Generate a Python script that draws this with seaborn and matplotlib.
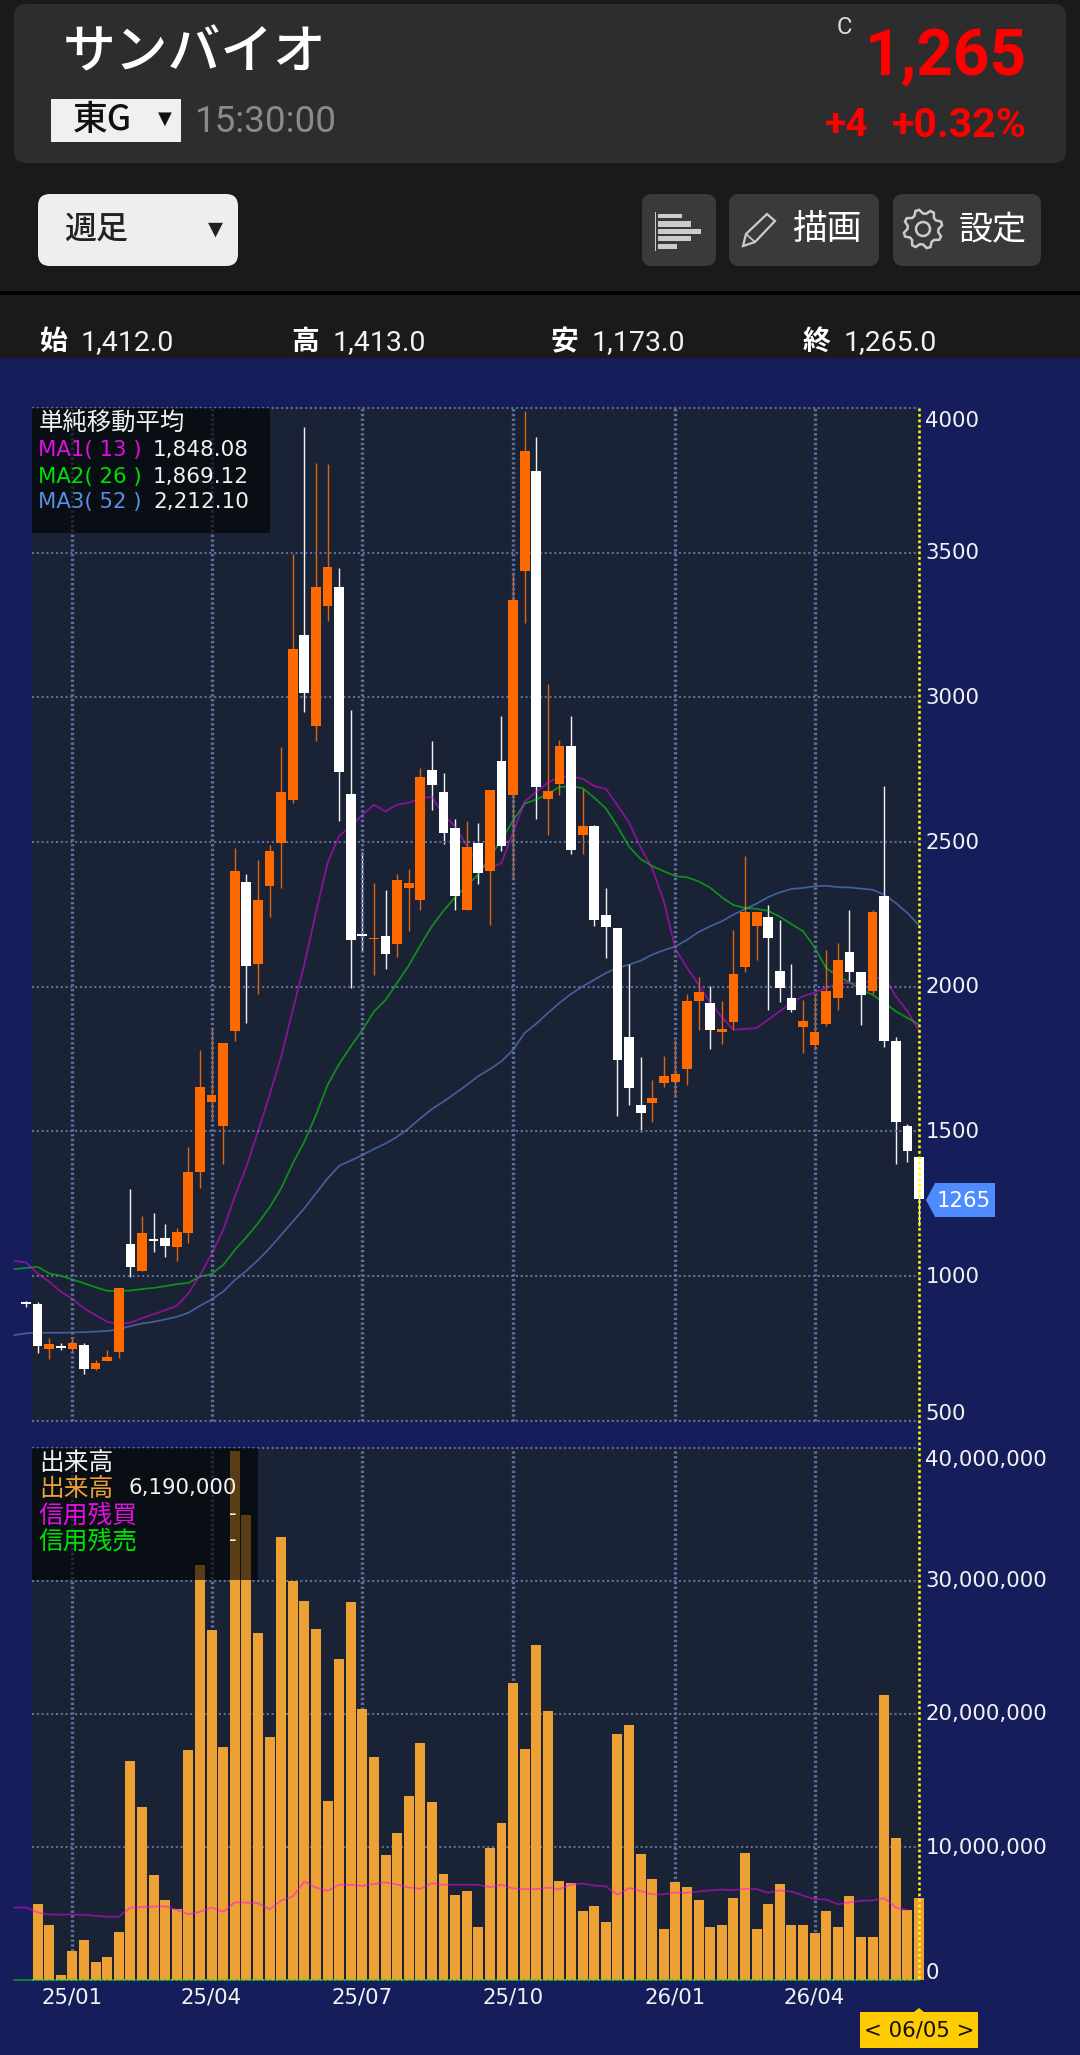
import numpy as np
import pandas as pd
import matplotlib
matplotlib.use('Agg')
import matplotlib.pyplot as plt
import seaborn as sns
from matplotlib.patches import FancyBboxPatch, Rectangle, Polygon, Circle
from matplotlib.transforms import ScaledTranslation

# Weekly candles (index 0 = leftmost candle)
candle_open = [911, 905, 749, 759, 749, 762, 677, 707, 736, 1109, 1018, 1128, 1131, 1101, 1150, 1359, 1602, 1520, 1847, 2362,
               2080, 2348, 2498, 2644, 3216, 2901, 3316, 3381, 2665, 2181, 2164, 2176, 2147, 2341, 2301, 2749, 2672, 2550, 2266, 2498,
               2399, 2780, 2662, 3436, 3782, 2649, 2700, 2831, 2525, 2555, 2249, 2202, 1826, 1590, 1597, 1668, 1671, 1717, 1950, 1945,
               1844, 1877, 2068, 2209, 2241, 2055, 1962, 1861, 1800, 1870, 1961, 2120, 2051, 1984, 2312, 1811, 1520, 1412]
candle_close = [904, 758, 764, 751, 770, 677, 698, 720, 958, 1032, 1150, 1122, 1104, 1152, 1359, 1654, 1626, 1804, 2399, 2073,
                2298, 2468, 2673, 3166, 3015, 3381, 3451, 2742, 2162, 2176, 2168, 2113, 2367, 2359, 2726, 2696, 2530, 2315, 2484, 2392,
                2680, 2485, 3336, 3852, 2690, 2677, 2831, 2474, 2555, 2229, 2205, 1747, 1649, 1563, 1614, 1690, 1697, 1949, 1983, 1850,
                1854, 2044, 2258, 2258, 2168, 1995, 1919, 1880, 1844, 1984, 2091, 2050, 1972, 2258, 1813, 1532, 1431, 1265]
candle_high = [913, 911, 785, 770, 790, 767, 710, 744, 958, 1300, 1208, 1217, 1181, 1167, 1447, 1781, 1856, 1804, 2478, 2388,
               2439, 2490, 2828, 3497, 3936, 3809, 3805, 3447, 2955, 2464, 2359, 2333, 2388, 2407, 2755, 2849, 2737, 2580, 2571, 2567,
               2680, 2935, 3432, 3991, 3899, 3047, 2852, 2935, 2682, 2560, 2341, 2204, 2079, 1757, 1679, 1762, 1817, 1975, 2033, 2001,
               1950, 2197, 2450, 2258, 2283, 2229, 2079, 1955, 1967, 2128, 2151, 2266, 2051, 2266, 2693, 1826, 1527, 1413]
candle_low = [892, 735, 714, 744, 736, 660, 675, 707, 715, 995, 1018, 1082, 1065, 1053, 1113, 1305, 1541, 1387, 1813, 1873,
              1973, 2240, 2342, 2636, 2951, 2849, 3265, 2574, 1995, 2123, 2040, 2061, 2101, 2193, 2265, 2611, 2494, 2265, 2266, 2355,
              2213, 2468, 2372, 3256, 2580, 2525, 2664, 2458, 2458, 2209, 2099, 1552, 1592, 1497, 1531, 1652, 1623, 1659, 1849, 1785,
              1803, 1849, 2050, 2091, 1918, 1946, 1912, 1771, 1782, 1865, 1921, 2018, 1869, 1976, 1791, 1387, 1394, 1173]

# Moving averages start one week before the first candle
ma1 = [1052, 1047, 1009, 980, 946, 921, 888, 865, 842, 833, 839, 854, 868, 882, 897, 940, 1003, 1076, 1159, 1274,
       1378, 1499, 1625, 1758, 1919, 2077, 2256, 2428, 2521, 2554, 2594, 2629, 2606, 2629, 2636, 2651, 2656, 2594, 2554, 2488,
       2421, 2408, 2428, 2534, 2640, 2673, 2706, 2726, 2726, 2719, 2693, 2684, 2627, 2567, 2481, 2408, 2295, 2130, 2065, 2007,
       1944, 1895, 1851, 1854, 1857, 1886, 1915, 1944, 1967, 1980, 1995, 2013, 2013, 2010, 2024, 2036, 1967, 1915, 1848]
ma2 = [1024, 1028, 1032, 1009, 1001, 988, 975, 961, 949, 948, 950, 955, 959, 965, 972, 976, 998, 1007, 1038, 1090,
       1134, 1182, 1237, 1303, 1389, 1464, 1556, 1660, 1733, 1793, 1850, 1914, 1954, 2013, 2073, 2143, 2209, 2262, 2309, 2348,
       2388, 2448, 2507, 2574, 2633, 2647, 2666, 2690, 2693, 2686, 2653, 2616, 2554, 2484, 2441, 2417, 2399, 2382, 2378, 2364,
       2342, 2309, 2282, 2272, 2269, 2262, 2242, 2216, 2192, 2136, 2064, 2037, 2015, 1990, 1972, 1944, 1915, 1892, 1869]
ma3 = [796, 802, 804, 804, 804, 805, 806, 808, 810, 816, 827, 836, 842, 850, 859, 873, 897, 919, 946, 986,
       1018, 1055, 1096, 1142, 1188, 1234, 1286, 1337, 1381, 1399, 1418, 1439, 1458, 1481, 1510, 1545, 1577, 1603, 1631, 1660,
       1691, 1715, 1742, 1782, 1840, 1872, 1909, 1944, 1975, 2001, 2024, 2047, 2065, 2076, 2090, 2111, 2126, 2139, 2162, 2189,
       2209, 2226, 2249, 2268, 2287, 2310, 2326, 2338, 2341, 2347, 2349, 2344, 2343, 2339, 2335, 2318, 2289, 2255, 2212]

# Volume in millions of shares, from the second candle on
volume = [5.74, 4.19, 0.39, 2.18, 3.05, 1.41, 1.77, 3.65, 16.5, 13.05, 7.93, 6.07, 5.33, 17.26, 31.15, 26.3, 17.5, 39.7, 34.9,
          26.1, 18.3, 33.3, 29.95, 28.5, 26.4, 13.5, 24.1, 28.4, 20.4, 16.8, 9.42, 11.04, 13.85, 17.8, 13.4, 8.0, 6.43, 6.73, 4.0,
          9.96, 11.85, 22.35, 17.4, 25.2, 20.2, 7.45, 7.3, 5.18, 5.62, 4.37, 18.46, 19.18, 9.48, 7.63, 3.89, 7.39, 7.0, 6.07, 4.0,
          4.13, 6.16, 9.6, 3.89, 5.74, 7.2, 4.13, 4.19, 3.53, 5.18, 4.0, 6.31, 3.29, 3.29, 21.4, 10.68, 5.3, 6.19]
# Margin buying balance, millions, starts one week before the first candle
margin_buy = [5.47, 5.47, 5.1, 4.94, 4.94, 4.94, 4.92, 4.85, 4.78, 4.78, 5.47, 5.5, 5.55, 5.56, 5.3, 4.97, 5.15, 5.47, 5.15, 5.86,
              5.84, 5.8, 5.33, 6.0, 6.3, 7.42, 6.97, 6.73, 7.18, 7.18, 7.09, 7.25, 7.36, 7.2, 6.97, 6.88, 7.3, 7.18, 7.18, 7.18,
              7.18, 7.0, 7.18, 6.9, 6.85, 6.85, 6.97, 6.85, 7.2, 7.27, 7.12, 7.06, 6.43, 6.94, 6.7, 6.46, 6.46, 6.6, 6.58, 6.67,
              6.76, 6.82, 6.76, 6.88, 6.85, 6.58, 6.76, 6.67, 6.37, 6.1, 6.07, 5.71, 5.86, 5.98, 6.0, 6.16, 5.47, 5.27]

month_pos = [4, 16, 29, 42, 56, 68]
month_labels = ['25/01', '25/04', '25/07', '25/10', '26/01', '26/04']
price_ticks = [500, 1000, 1500, 2000, 2500, 3000, 3500, 4000]
volume_ticks = [0, 10, 20, 30, 40]
volume_tick_labels = ['0', '10,000,000', '20,000,000', '30,000,000', '40,000,000']

NAVY = '#151e5a'
PANEL = '#1a2335'
GRID = '#5e6d99'
ORANGE = '#ff6a00'
BAR = '#eda135'
HEAD = '#1a1a1a'
JP = ['Noto Sans CJK JP', 'DejaVu Sans']
NUM = ['Roboto', 'Noto Sans CJK JP']

sns.set_style('white')
plt.rcParams['font.family'] = ['DejaVu Sans', 'Noto Sans CJK JP']

W, H = 1080, 2055
fig = plt.figure(figsize=(10.8, 20.55), dpi=100, facecolor=NAVY)


def place(x0, y0, x1, y1):
    return [x0 / W, 1 - y1 / H, (x1 - x0) / W, (y1 - y0) / H]


ax = fig.add_axes(place(32, 408, 919, 1420.7), facecolor=PANEL)
ax_vol = fig.add_axes(place(32, 1447.5, 919, 1980.4), facecolor=PANEL)
xlim = (0.517, 77)

# Candles
idx = np.arange(len(candle_open))
candles = pd.DataFrame({'i': idx, 'open': candle_open, 'close': candle_close, 'high': candle_high, 'low': candle_low})
candles['col'] = np.where(candles['close'] > candles['open'], ORANGE, 'white')
candles['wick'] = np.where(candles['close'] > candles['open'], '#e0640c', '#f2f2f2')
ax.vlines(candles['i'], candles['low'], candles['high'], colors=candles['wick'], linewidth=1.0, zorder=1.5, clip_on=False)
ax.bar(candles['i'], (candles['close'] - candles['open']).abs(), bottom=candles[['open', 'close']].min(axis=1),
       width=0.84, color=candles['col'], edgecolor='none', linewidth=0, zorder=3, clip_on=False)

# Moving averages
ma_x = np.arange(-1, len(ma1) - 1)
for vals, col in [(ma3, '#6f9bff'), (ma2, '#00ff00'), (ma1, '#ff00ff')]:
    sns.lineplot(x=ma_x, y=vals, color=col, alpha=0.5, linewidth=1.25, ax=ax, zorder=2, clip_on=False, errorbar=None)

# Volume
vol_df = pd.DataFrame({'i': np.arange(1, len(volume) + 1), 'vol': volume})
sns.barplot(data=vol_df, x='i', y='vol', native_scale=True, width=0.86, color=BAR, saturation=1, ax=ax_vol,
            zorder=3, clip_on=False, edgecolor='none', linewidth=0)
buy_x = np.arange(-1, len(margin_buy) - 1)
sns.lineplot(x=buy_x, y=margin_buy, color='#ff00ff', alpha=0.5, linewidth=1.25, ax=ax_vol, zorder=4, clip_on=False, errorbar=None)
sell_x = np.arange(-1, len(margin_buy))
sns.lineplot(x=sell_x, y=np.zeros(len(sell_x)), color='#00ff00', alpha=0.5, linewidth=1.25, ax=ax_vol, zorder=4, clip_on=False, errorbar=None)

ax.set_ylim(500, 4000)
ax_vol.set_ylim(0, 40)
for a, ticks, labels in [(ax, price_ticks, [str(t) for t in price_ticks]), (ax_vol, volume_ticks, volume_tick_labels)]:
    a.set_xlim(*xlim)
    a.set_xlabel('')
    a.set_ylabel('')
    a.set_xticks(month_pos)
    a.set_yticks(ticks)
    a.yaxis.tick_right()
    a.set_yticklabels(labels)
    a.tick_params(axis='y', length=0, pad=4.5, labelsize=15.3, labelcolor='#f2f2f2')
    a.tick_params(axis='x', length=0, pad=5, labelsize=15.3, labelcolor='#f2f2f2')
    a.grid(axis='y', color=GRID, linewidth=1.5, linestyle=(0, (1.0, 1.3)), zorder=1)
    a.grid(axis='x', color=GRID, linewidth=2.4, linestyle=(0, (0.7, 0.75)), zorder=1)
    a.set_axisbelow(False)
    for g in a.get_xgridlines() + a.get_ygridlines():
        g.set_zorder(1.8)
        g.set_clip_on(False)
    sns.despine(ax=a, left=True, right=True, top=True, bottom=True)
    lab = a.get_yticklabels()
    for n, t in enumerate(lab):
        # end labels sit inside the panel, the rest just above their grid line
        if n == 0:
            t.set_va('bottom')
            dy = -3
        elif n == len(lab) - 1:
            t.set_va('top')
            dy = -3
        else:
            dy = 1.5
        t.set_transform(t.get_transform() + ScaledTranslation(0, dy / 100, fig.dpi_scale_trans))
ax.set_xticklabels([])
ax_vol.set_xticklabels(month_labels)

# Everything around the chart, in pixel coordinates
ov = fig.add_axes([0, 0, 1, 1], zorder=5)
ov.set_xlim(0, W)
ov.set_ylim(H, 0)
ov.axis('off')


def rbox(x0, y0, x1, y1, col, r=9):
    ov.add_patch(FancyBboxPatch((x0 + r, y0 + r), x1 - x0 - 2 * r, y1 - y0 - 2 * r,
                                boxstyle='round,pad=%d' % r, fc=col, ec='none'))


ov.add_patch(Rectangle((0, 0), W, 358, fc=HEAD, ec='none'))
ov.add_patch(Rectangle((0, 291), W, 4, fc='#000000', ec='none'))
rbox(14, 4, 1066, 163, '#2d2d2d', 12)
ov.text(63, 53, 'サンバイオ', color='white', fontsize=38, fontweight='medium', family=JP, va='center')
ov.text(844, 28, 'C', color='#dddddd', fontsize=17, family=NUM, va='center', ha='center')
ov.text(1027, 57, '1,265', color='#ff0000', fontsize=46, fontweight='bold', family=NUM, va='center', ha='right')
ov.add_patch(Rectangle((51, 99), 130, 43, fc='#f0f0f0', ec='none'))
ov.text(73, 120, '東G', color='#111111', fontsize=25, fontweight='medium', family=JP, va='center')
ov.text(165, 119, '▼', color='#111111', fontsize=13, family='DejaVu Sans', va='center', ha='center')
ov.text(195, 122, '15:30:00', color='#8a8a8a', fontsize=26.5, family=NUM, va='center')
ov.text(825, 126, '+4', color='#ff0000', fontsize=28, fontweight='bold', family=NUM, va='center')
ov.text(1027, 126, '+0.32%', color='#ff0000', fontsize=29.5, fontweight='bold', family=NUM, va='center', ha='right')

rbox(38, 194, 238, 266, '#eeeeee', 12)
ov.text(64, 230, '週足', color='#222222', fontsize=23, fontweight='medium', family=JP, va='center')
ov.text(215, 229, '▼', color='#222222', fontsize=14, family='DejaVu Sans', va='center', ha='center')
rbox(642, 194, 716, 266, '#3a3a3a', 10)
rbox(729, 194, 879, 266, '#3a3a3a', 10)
rbox(893, 194, 1041, 266, '#3a3a3a', 10)
ov.add_patch(Rectangle((654.5, 212), 1.5, 39, fc='#cccccc', ec='none'))
for y0, y1, x1 in [(213.5, 218, 682), (221, 227, 691), (228.5, 234, 701), (236, 241, 691), (244, 249, 677)]:
    ov.add_patch(Rectangle((658, y0), x1 - 658, y1 - y0, fc='#cccccc', ec='none'))

# pencil outline
ov.add_patch(Polygon([(743, 246), (746, 234), (767, 214), (775, 221), (755, 242)], fc='none', ec='#cccccc', linewidth=1.6))
ov.plot([746, 755], [234, 242], color='#cccccc', linewidth=1.2)
ov.text(793, 230, '描画', color='white', fontsize=25, family=JP, va='center')

# gear outline
n_teeth = 8
ang = np.linspace(0, 2 * np.pi, n_teeth * 4, endpoint=False) + np.pi / 8
rad = np.tile([19.5, 19.5, 15.5, 15.5], n_teeth)
ov.add_patch(Polygon(np.c_[923 + rad * np.cos(ang), 229 + rad * np.sin(ang)], fc='none', ec='#cccccc', linewidth=1.8))
ov.add_patch(Circle((923, 229), 7, fc='none', ec='#cccccc', linewidth=1.8))
ov.text(959, 230, '設定', color='white', fontsize=24.5, family=JP, va='center')

for x0, x1, lab, val in [(40, 81, '始', '1,412.0'), (291, 333, '高', '1,413.0'), (551, 592, '安', '1,173.0'), (803, 844, '終', '1,265.0')]:
    ov.text(x0, 342, lab, color='white', fontsize=20, fontweight='bold', family=JP, va='center')
    ov.text(x1, 343, val, color='#f2f2f2', fontsize=20.5, family=NUM, va='center')

# Legend boxes
ov.add_patch(Rectangle((32, 408), 238, 125, fc='black', alpha=0.62, ec='none'))
ov.text(39, 424, '単純移動平均', color='#f2f2f2', fontsize=17.6, family=JP, va='center')
for y, lab, col, val in [(450, 'MA1( 13 )', '#e010e0', '1,848.08'), (477, 'MA2( 26 )', '#00e000', '1,869.12'), (502, 'MA3( 52 )', '#5b8de0', '2,212.10')]:
    ov.text(38, y, lab, color=col, fontsize=15.3, va='center')
    ov.text(153, y, val, color='#f2f2f2', fontsize=15.5, va='center')

ov.add_patch(Rectangle((32, 1447.5), 226, 132, fc='black', alpha=0.62, ec='none'))
ov.text(39, 1463, '出来高', color='#f2f2f2', fontsize=17.8, family=JP, va='center')
ov.text(39, 1489, '出来高', color=BAR, fontsize=17.8, family=JP, va='center')
ov.text(128, 1488, '6,190,000', color='#f2f2f2', fontsize=15.3, va='center')
ov.text(39, 1516, '信用残買', color='#e010e0', fontsize=17.8, family=JP, va='center')
ov.text(39, 1542, '信用残売', color='#00e000', fontsize=17.8, family=JP, va='center')
ov.text(233, 1514, '-', color='#f2f2f2', fontsize=15.3, va='center', ha='center')
ov.text(233, 1540, '-', color='#f2f2f2', fontsize=15.3, va='center', ha='center')

# Cursor line and tags
ov.plot([919, 919], [408, 1980], color='#ffff00', linewidth=1.8, linestyle=(0, (1.1, 1.1)))
ov.add_patch(Polygon([(926, 1200), (935, 1183), (995, 1183), (995, 1217), (935, 1217)], fc='#4d8bff', ec='none'))
ov.text(964, 1201, '1265', color='white', fontsize=15.3, va='center', ha='center')
ov.add_patch(Polygon([(860, 2012), (914, 2012), (919, 2008), (924, 2012), (978, 2012), (978, 2048), (860, 2048)], fc='#ffcc00', ec='none'))
ov.text(919, 2030, '< 06/05 >', color='#111111', fontsize=15.3, va='center', ha='center')

fig.savefig('out.png', dpi=100, facecolor=NAVY)
